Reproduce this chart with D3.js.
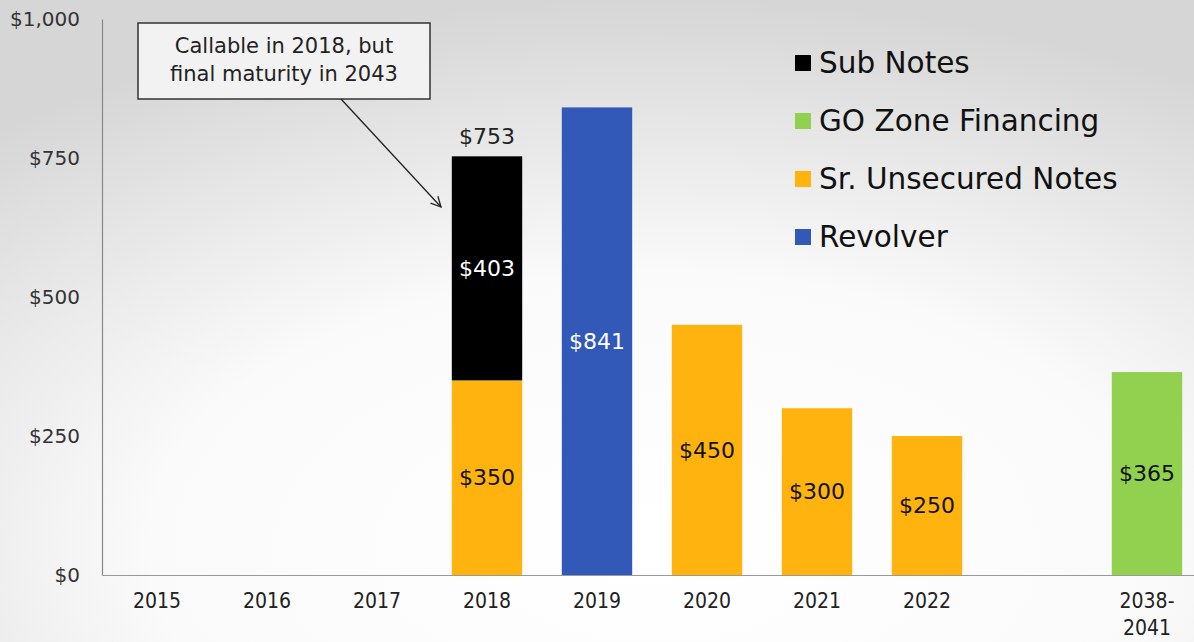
<!DOCTYPE html>
<html>
<head>
<meta charset="utf-8">
<script src="https://cdn.jsdelivr.net/npm/d3@7"></script>
<style>
  body { margin: 0; }
  svg { display: block; }
</style>
</head>
<body>
<div id="chart"></div>
<script>
// data
var categories = ["2015", "2016", "2017", "2018", "2019", "2020", "2021", "2022", "", "2038-2041"];
var subNotes = [0, 0, 0, 403, 0, 0, 0, 0, 0, 0];
var goZone = [0, 0, 0, 0, 0, 0, 0, 0, 0, 365];
var srUnsecured = [0, 0, 0, 350, 0, 450, 300, 250, 0, 0];
var revolver = [0, 0, 0, 0, 841, 0, 0, 0, 0, 0];
var yTicks = [0, 250, 500, 750, 1000];

var seriesNames = ["Sr. Unsecured Notes", "Revolver", "GO Zone Financing", "Sub Notes"];
var seriesValues = [srUnsecured, revolver, goZone, subNotes];
var colors = {
    "Sub Notes": "#000000",
    "GO Zone Financing": "#92d050",
    "Sr. Unsecured Notes": "#ffb30f",
    "Revolver": "#3359b8"
};
var legendOrder = ["Sub Notes", "GO Zone Financing", "Sr. Unsecured Notes", "Revolver"];

var width = 1194, height = 642;
var margin = {top: 19, left: 102, bottom: 67};

var svg = d3.select("#chart").append("svg")
    .attr("width", width)
    .attr("height", height);

// background gradient
var defs = svg.append("defs");
var grad = defs.append("radialGradient")
    .attr("id", "bg")
    .attr("cx", "55%").attr("cy", "85%")
    .attr("r", "85%");
grad.append("stop").attr("offset", "0%").attr("stop-color", "#ffffff");
grad.append("stop").attr("offset", "50%").attr("stop-color", "#fafafa");
grad.append("stop").attr("offset", "100%").attr("stop-color", "#d6d6d6");
svg.append("rect").attr("width", width).attr("height", height).attr("fill", "url(#bg)");

var marker = defs.append("marker")
    .attr("id", "arrow")
    .attr("viewBox", "0 0 12 12")
    .attr("refX", 11).attr("refY", 6)
    .attr("markerWidth", 12).attr("markerHeight", 12)
    .attr("markerUnits", "userSpaceOnUse")
    .attr("orient", "auto");
marker.append("path")
    .attr("d", "M1,1 L11,6 L1,11")
    .attr("fill", "none")
    .attr("stroke", "#222")
    .attr("stroke-width", 1.3);

var x = d3.scaleBand()
    .domain(categories)
    .range([margin.left, margin.left + 110 * categories.length])
    .paddingInner(0.36)
    .paddingOuter(0.18);

var y = d3.scaleLinear()
    .domain([0, 1000])
    .range([height - margin.bottom, margin.top]);

// stacked data
var rows = categories.map(function (c, i) {
    var r = {cat: c};
    seriesNames.forEach(function (s, j) { r[s] = seriesValues[j][i]; });
    return r;
});
var stacked = d3.stack().keys(seriesNames)(rows);

var fontMain = "Verdana, 'DejaVu Sans', sans-serif";

svg.append("g")
    .selectAll("g")
    .data(stacked)
    .enter().append("g")
    .attr("fill", function (d) { return colors[d.key]; })
    .selectAll("rect")
    .data(function (d) { return d.filter(function (p) { return p[1] - p[0] > 0; }); })
    .enter().append("rect")
    .attr("x", function (d) { return x(d.data.cat); })
    .attr("width", x.bandwidth())
    .attr("y", function (d) { return y(d[1]); })
    .attr("height", function (d) { return y(d[0]) - y(d[1]); });

// segment labels
stacked.forEach(function (layer) {
    layer.forEach(function (p) {
        var v = p[1] - p[0];
        if (v <= 0) return;
        var light = layer.key === "Sub Notes" || layer.key === "Revolver";
        svg.append("text")
            .attr("x", x(p.data.cat) + x.bandwidth() / 2)
            .attr("y", y((p[0] + p[1]) / 2))
            .attr("dy", "0.35em")
            .attr("text-anchor", "middle")
            .attr("font-family", fontMain)
            .attr("font-size", 22)
            .attr("fill", light ? "#ffffff" : "#111111")
            .text("$" + v);
    });
});

// total above stacked bar
rows.forEach(function (r, i) {
    var parts = seriesNames.filter(function (s) { return r[s] > 0; });
    if (parts.length < 2) return;
    var total = d3.sum(parts, function (s) { return r[s]; });
    svg.append("text")
        .attr("x", x(r.cat) + x.bandwidth() / 2)
        .attr("y", y(total) - 12)
        .attr("text-anchor", "middle")
        .attr("font-family", fontMain)
        .attr("font-size", 22)
        .attr("fill", "#222")
        .text("$" + total);
});

// axes
var yAxis = svg.append("g")
    .attr("transform", "translate(" + margin.left + ",0)")
    .call(d3.axisLeft(y).tickValues(yTicks).tickSize(0).tickPadding(22)
        .tickFormat(function (d) { return "$" + d3.format(",")(d); }));
yAxis.select(".domain").attr("stroke", "#888").attr("stroke-width", 1.2);
yAxis.selectAll("text")
    .attr("font-family", fontMain)
    .attr("font-size", 20)
    .attr("fill", "#333");

var xAxis = svg.append("g")
    .attr("transform", "translate(0," + y(0) + ")")
    .call(d3.axisBottom(x).tickSize(0).tickPadding(18));
xAxis.select(".domain").attr("stroke", "#999").attr("stroke-width", 1.2);
xAxis.selectAll("text")
    .attr("font-family", "'DejaVu Sans Condensed', 'DejaVu Sans', sans-serif")
    .attr("font-size", 21)
    .attr("fill", "#222")
    .each(function (d) {
        var parts = d.split("-");
        if (parts.length < 2) return;
        var t = d3.select(this).text(null);
        t.append("tspan").attr("x", 0).text(parts[0] + "-");
        t.append("tspan").attr("x", 0).attr("dy", "1.3em").text(parts[1]);
    });

// legend
var legend = svg.append("g")
    .selectAll("g")
    .data(legendOrder)
    .enter().append("g")
    .attr("transform", function (d, i) { return "translate(795," + (63 + i * 58) + ")"; });
legend.append("rect")
    .attr("x", 0).attr("y", -8)
    .attr("width", 16).attr("height", 16)
    .attr("fill", function (d) { return colors[d]; });
legend.append("text")
    .attr("x", 24)
    .attr("dy", "0.35em")
    .attr("font-family", fontMain)
    .attr("font-size", 29.5)
    .attr("fill", "#111")
    .text(function (d) { return d; });

// annotation
var note = svg.append("g");
note.append("rect")
    .attr("x", 138).attr("y", 23)
    .attr("width", 292).attr("height", 76)
    .attr("fill", "#f2f2f2")
    .attr("stroke", "#333")
    .attr("stroke-width", 1.5);
note.append("text")
    .attr("x", 284).attr("y", 53)
    .attr("text-anchor", "middle")
    .attr("font-family", fontMain)
    .attr("font-size", 21)
    .attr("fill", "#222")
    .text("Callable in 2018, but");
note.append("text")
    .attr("x", 284).attr("y", 81)
    .attr("text-anchor", "middle")
    .attr("font-family", fontMain)
    .attr("font-size", 21)
    .attr("fill", "#222")
    .text("final maturity in 2043");
note.append("line")
    .attr("x1", 341).attr("y1", 99)
    .attr("x2", 441).attr("y2", 207)
    .attr("stroke", "#222")
    .attr("stroke-width", 1.3)
    .attr("marker-end", "url(#arrow)");
</script>
</body>
</html>
